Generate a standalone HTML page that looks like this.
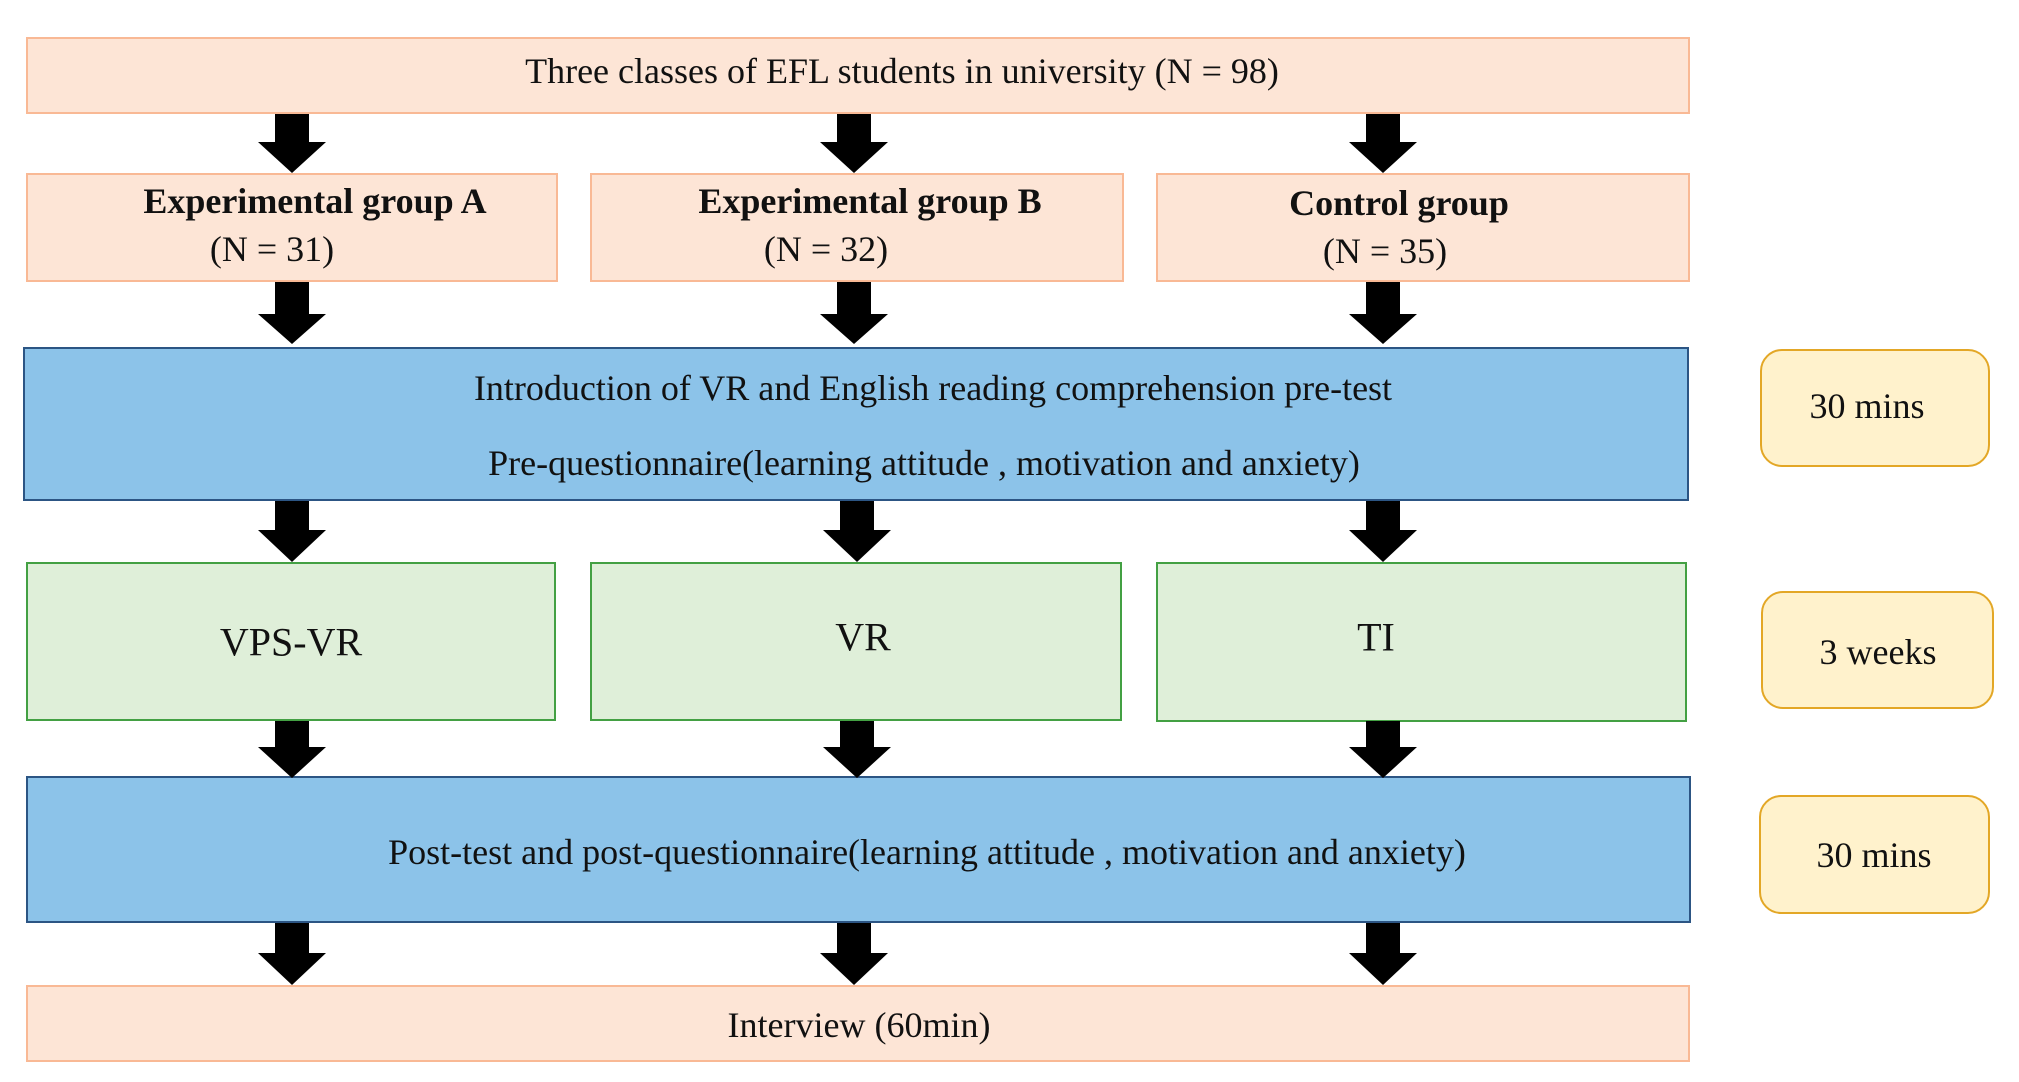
<!DOCTYPE html>
<html><head><meta charset="utf-8"><style>
body{margin:0;width:2019px;height:1082px;background:#fff;position:relative;overflow:hidden;font-family:"Liberation Serif",serif;color:#111}
.b{position:absolute;box-sizing:border-box}
.p{background:#fde5d6;border:2.5px solid #f9b995}
.bl{background:#8cc3e9;border:2.5px solid #2c5584}
.g{background:#dfefd9;border:2.5px solid #43a043}
.y{background:#fff2cc;border:2.5px solid #e3a726;border-radius:22px}
.t{position:absolute;transform:translate(-50%,-50%);white-space:nowrap;font-size:36px}
.bd{font-weight:bold}
svg{position:absolute;left:0;top:0}
</style></head><body>
<div class="b p" style="left:26px;top:37px;width:1664px;height:77px"></div>
<div class="b p" style="left:26px;top:173px;width:532px;height:109px"></div>
<div class="b p" style="left:590px;top:173px;width:534px;height:109px"></div>
<div class="b p" style="left:1156px;top:173px;width:534px;height:109px"></div>
<div class="b bl" style="left:23px;top:347px;width:1666px;height:154px"></div>
<div class="b g" style="left:26px;top:562px;width:530px;height:159px"></div>
<div class="b g" style="left:590px;top:562px;width:532px;height:159px"></div>
<div class="b g" style="left:1156px;top:562px;width:531px;height:160px"></div>
<div class="b bl" style="left:26px;top:776px;width:1665px;height:147px"></div>
<div class="b p" style="left:26px;top:985px;width:1664px;height:77px"></div>
<div class="b y" style="left:1760px;top:349px;width:230px;height:118px"></div>
<div class="b y" style="left:1761px;top:591px;width:233px;height:118px"></div>
<div class="b y" style="left:1759px;top:795px;width:231px;height:119px"></div>
<svg width="2019" height="1082">
<g fill="#000">
<!-- arrows generated -->
<polygon points="275,114 309,114 309,142 326,142 292,173 258,142 275,142"/>
<polygon points="837,114 871,114 871,142 888,142 854,173 820,142 837,142"/>
<polygon points="1366,114 1400,114 1400,142 1417,142 1383,173 1349,142 1366,142"/>
<polygon points="275,282 309,282 309,314 326,314 292,344 258,314 275,314"/>
<polygon points="837,282 871,282 871,314 888,314 854,344 820,314 837,314"/>
<polygon points="1366,282 1400,282 1400,314 1417,314 1383,344 1349,314 1366,314"/>
<polygon points="275,501 309,501 309,530 326,530 292,562 258,530 275,530"/>
<polygon points="840,501 874,501 874,530 891,530 857,562 823,530 840,530"/>
<polygon points="1366,501 1400,501 1400,530 1417,530 1383,562 1349,530 1366,530"/>
<polygon points="275,721 309,721 309,747 326,747 292,778 258,747 275,747"/>
<polygon points="840,721 874,721 874,747 891,747 857,778 823,747 840,747"/>
<polygon points="1366,721 1400,721 1400,747 1417,747 1383,778 1349,747 1366,747"/>
<polygon points="275,923 309,923 309,953 326,953 292,985 258,953 275,953"/>
<polygon points="837,923 871,923 871,953 888,953 854,985 820,953 837,953"/>
<polygon points="1366,923 1400,923 1400,953 1417,953 1383,985 1349,953 1366,953"/>
</g></svg>
<div class="t" style="left:902px;top:71px">Three classes of EFL students in university (N = 98)</div>
<div class="t bd" style="left:315px;top:201px">Experimental group A</div>
<div class="t" style="left:272px;top:249px">(N = 31)</div>
<div class="t bd" style="left:870px;top:201px">Experimental group B</div>
<div class="t" style="left:826px;top:249px">(N = 32)</div>
<div class="t bd" style="left:1399px;top:203px">Control group</div>
<div class="t" style="left:1385px;top:251px">(N = 35)</div>
<div class="t" style="left:933px;top:388px">Introduction of VR and English reading comprehension pre-test</div>
<div class="t" style="left:924px;top:463px">Pre-questionnaire(learning attitude , motivation and anxiety)</div>
<div class="t" style="left:291px;top:642px;font-size:40px">VPS-VR</div>
<div class="t" style="left:863px;top:637px;font-size:40px">VR</div>
<div class="t" style="left:1376px;top:637px;font-size:40px">TI</div>
<div class="t" style="left:927px;top:852px">Post-test and post-questionnaire(learning attitude , motivation and anxiety)</div>
<div class="t" style="left:859px;top:1025px">Interview (60min)</div>
<div class="t" style="left:1867px;top:406px">30 mins</div>
<div class="t" style="left:1878px;top:652px">3 weeks</div>
<div class="t" style="left:1874px;top:855px">30 mins</div>
</body></html>
